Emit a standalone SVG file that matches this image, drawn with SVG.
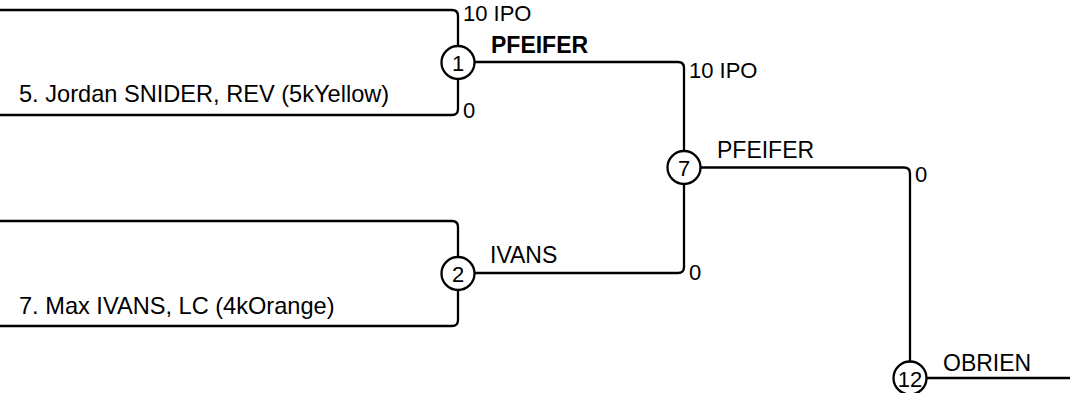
<svg xmlns="http://www.w3.org/2000/svg" width="1070" height="393" viewBox="0 0 1070 393">
<style>
.ln{fill:none;stroke:#000;stroke-width:2.3}
.c{fill:#fff;stroke:#000;stroke-width:2.3}
text{font-family:"Liberation Sans",Arial,sans-serif;font-size:22px;fill:#000}
.p{font-size:23px}
.q{font-size:23.6px}
.n{text-anchor:middle}
.b{font-weight:bold;font-size:23px}
</style>
<rect width="1070" height="393" fill="#fff"/>
<g id="connectors">
<path class="ln" d="M0 10 H452 Q458 10 458 16 V46"/>
<path class="ln" d="M0 115 H452 Q458 115 458 109 V79"/>
<path class="ln" d="M475 62 H678 Q684 62 684 68 V151"/>
<path class="ln" d="M0 221 H452 Q458 221 458 227 V257"/>
<path class="ln" d="M0 326 H452 Q458 326 458 320 V290"/>
<path class="ln" d="M475 273 H678 Q684 273 684 267 V184"/>
<path class="ln" d="M701 167.5 H904 Q910 167.5 910 173.5 V362"/>
<path class="ln" d="M927 378 H1070"/>
</g>
<g id="labels">
<text class="q" x="19" y="102">5. Jordan SNIDER, REV (5kYellow)</text>
<text x="463" y="21">10 IPO</text>
<text x="463" y="118">0</text>
<text class="q" x="19" y="314">7. Max IVANS, LC (4kOrange)</text>
<text class="b" x="491" y="53">PFEIFER</text>
<text x="689" y="78">10 IPO</text>
<text class="p" x="490" y="263">IVANS</text>
<text x="689" y="280">0</text>
<text class="p" x="717" y="158">PFEIFER</text>
<text x="915" y="182">0</text>
<text class="p" x="943" y="371">OBRIEN</text>
</g>
<g id="m1"><circle class="c" cx="458" cy="62.5" r="16.5"/><text class="n" x="458" y="70.5">1</text></g>
<g id="m2"><circle class="c" cx="458" cy="273.5" r="16.5"/><text class="n" x="458" y="281.5">2</text></g>
<g id="m7"><circle class="c" cx="684" cy="167.5" r="16.5"/><text class="n" x="684" y="175.5">7</text></g>
<g id="m12"><circle class="c" cx="910" cy="378" r="16.5"/><text class="n" x="910" y="387">12</text></g>
</svg>
